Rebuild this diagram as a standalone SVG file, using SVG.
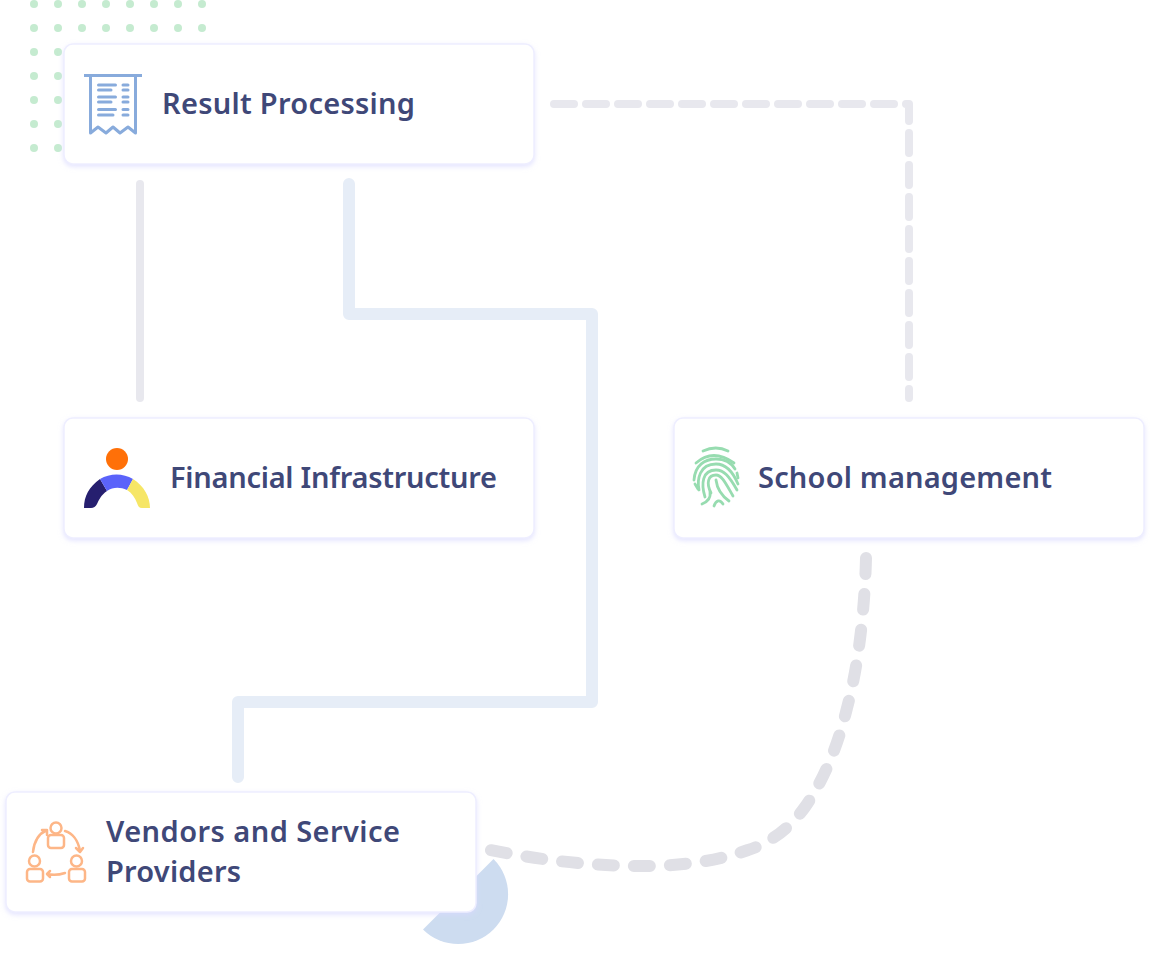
<svg xmlns="http://www.w3.org/2000/svg" width="1150" height="965" viewBox="0 0 1150 965">
<style>
.card{fill:#fff;stroke:#eeeeff;stroke-width:1.500;filter:url(#sh)}
.lbl{font-family:"Noto Sans","Open Sans",sans-serif;font-weight:600;font-size:29px;fill:#3f4878}
.rc{fill:none;stroke:#88abdc;stroke-width:3}
.fp{fill:none;stroke:#97dcb0;stroke-width:2.800;stroke-linecap:round}
.vn{fill:none;stroke:#fdb687;stroke-width:2.500;stroke-linecap:round;stroke-linejoin:round}
</style>
<defs>
<filter id="sh" x="-5%" y="-10%" width="110%" height="125%"><feDropShadow dx="0" dy="2" stdDeviation="2.500" flood-color="#d8d8ff" flood-opacity="0.7"/></filter>
<pattern id="dots" x="22" y="-8" width="24" height="24" patternUnits="userSpaceOnUse"><circle cx="12" cy="12" r="4" fill="#c5ebd0"/></pattern>
</defs>
<rect x="22" y="0" width="192" height="160" fill="url(#dots)"/>
<path d="M493.500 859A49.800 49.800 0 0 1 423 929.500Z" fill="#cddcf0"/>
<g id="connectors" fill="none" stroke-linecap="round" stroke-linejoin="round">
<path d="M140 184V398" stroke="#e8e8ee" stroke-width="8"/>
<path d="M349 184V314H592V702H238V777" stroke="#e6edf7" stroke-width="12"/>
<path d="M554 104H909V398" stroke="#e8e8ee" stroke-width="8" stroke-dasharray="20 12"/>
<path d="M866 558C865 600 860 660 847 708C838 745 825 778 805 807C790 828 770 843 748 850C715 862 678 866 642 866C590 866 540 860 490 850" stroke="#e0e0e6" stroke-width="12" stroke-dasharray="16 20"/>
</g>
<g id="result-processing">
<rect class="card" x="64" y="44" width="470" height="120" rx="9"/>
<path class="rc" d="M84 75.500H142M90.500 75.500V133L98 127L106 133L113 127L120 133L128 127L135.500 133V75.500" stroke-linejoin="round"/>
<path d="M98.500 85H115.500M98.500 90H111M98.500 97H115.500M98.500 102H111M98.500 109.500H115.500M98.500 115H113M123 85H128M123 90H128M123 97H128M123 102H128M123 109.500H128M123 115H128" stroke="#88abdc" stroke-width="3" stroke-linecap="round"/>
<text class="lbl" x="162" y="114" textLength="253">Result Processing</text>
</g>
<g id="financial-infrastructure">
<rect class="card" x="64" y="418" width="470" height="120" rx="9"/>
<circle cx="117" cy="459" r="11" fill="#ff7008"/>
<path d="M84 508C84 496 89 487 100 479L107 491C101 495 99 500 97 504Q95 508 91 508Z" fill="#261f6f"/>
<path d="M100 479C110 473 123 473 133 479L127 490C120 487 113 487 107 491Z" fill="#5b63fa"/>
<path d="M133 479C144 486 150 497 150 508H142C139 508 138 506 137 503C135 498 132 493 127 490Z" fill="#f6e666"/>
<text class="lbl" x="170" y="488" textLength="327">Financial Infrastructure</text>
</g>
<g id="school-management">
<rect class="card" x="674" y="418" width="470" height="120" rx="9"/>
<g class="fp">
<path d="M703 451Q716 445 728 451"/>
<path d="M696 463Q713 448 734 463"/>
<path d="M694 480C695 465 705 459 716 459C726 459 732 464 735 469"/>
<path d="M737 473L738 478"/>
<path d="M699 490C697 480 699 464 716 464C726 464 733 472 738 484"/>
<path d="M705 497C701 484 702 470 716 470C724 470 729 476 737 490"/>
<path d="M711 493C706 483 708 475 716 475C722 475 726 484 733 496"/>
<path d="M716 480C717 488 722 496 729 501"/>
<path d="M710 492C711 498 707 502 702 504"/>
<path d="M714 506C716 500 720 499 723 504"/>
<path d="M695 484L698 489"/>
</g>
<text class="lbl" x="758" y="488" textLength="294">School management</text>
</g>
<g id="vendors">
<rect class="card" x="6" y="792" width="470" height="120" rx="9"/>
<g class="vn">
<circle cx="56" cy="828" r="5.500"/><rect x="48" y="835" width="16" height="13" rx="3"/>
<circle cx="34.500" cy="861" r="5.500"/><rect x="27" y="869" width="16" height="12.500" rx="3"/>
<circle cx="76.500" cy="861" r="5.500"/><rect x="69" y="869" width="16" height="12.500" rx="3"/>
<path d="M33 852C34 842 38 834 47 830M42 830H47V835"/>
<path d="M65 831C72 833 78 840 80 851M76 848L80 852L83 848"/>
<path d="M65 873Q56 876 47 874M50 871L47 874L50 877"/>
</g>
<text class="lbl" x="106" y="842" textLength="294">Vendors and Service</text>
<text class="lbl" x="106" y="882" textLength="135">Providers</text>
</g>
</svg>
